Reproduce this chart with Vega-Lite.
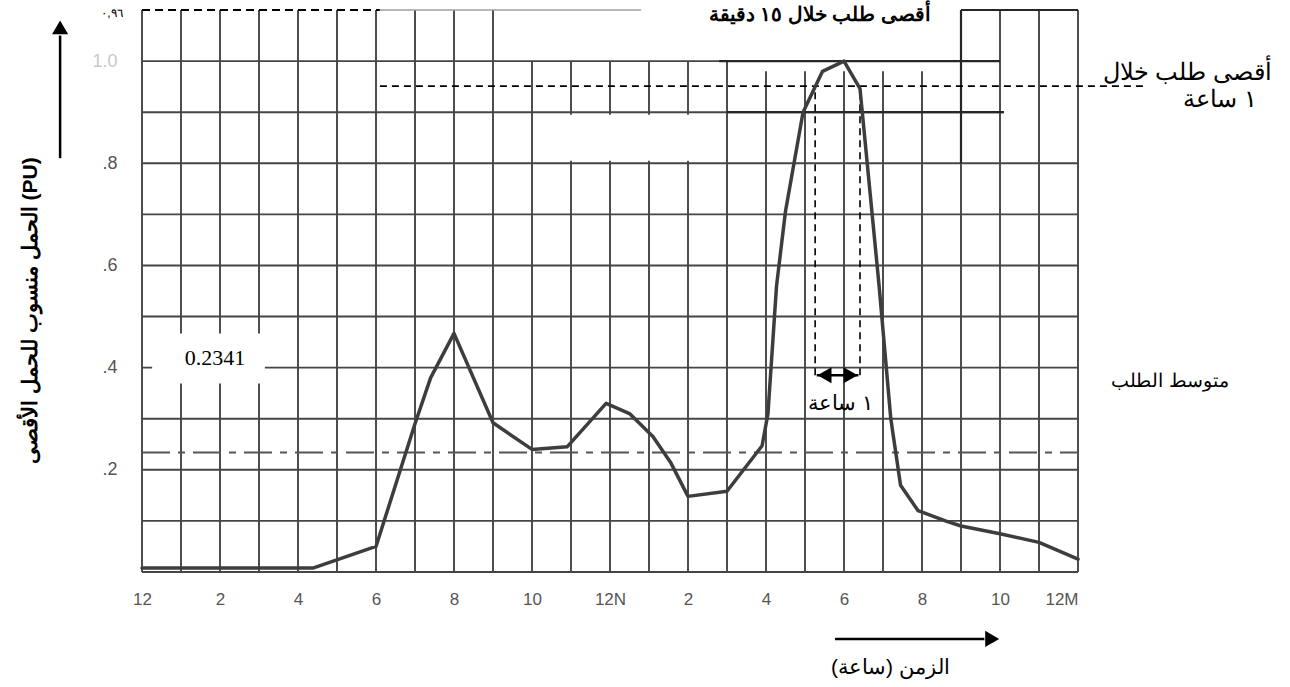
{
  "$schema": "https://vega.github.io/schema/vega-lite/v6.json",
  "width": 936,
  "height": 562,
  "autosize": {"type": "none"},
  "padding": {"left": 142, "top": 10, "right": 212, "bottom": 115},
  "background": "white",
  "config": {"view": {"stroke": null}, "font": "Liberation Sans"},
  "datasets": {
    "curve": [
      {"h": 0, "v": 0.008}, {"h": 4.4, "v": 0.008}, {"h": 6.0, "v": 0.05}, {"h": 7.0, "v": 0.29},
      {"h": 7.4, "v": 0.38}, {"h": 8.0, "v": 0.467}, {"h": 9.0, "v": 0.292}, {"h": 10.0, "v": 0.24},
      {"h": 10.9, "v": 0.245}, {"h": 11.9, "v": 0.33}, {"h": 12.5, "v": 0.31}, {"h": 13.1, "v": 0.265},
      {"h": 13.55, "v": 0.215}, {"h": 14.0, "v": 0.148}, {"h": 15.0, "v": 0.158}, {"h": 15.9, "v": 0.247},
      {"h": 16.05, "v": 0.31}, {"h": 16.27, "v": 0.56}, {"h": 16.5, "v": 0.706}, {"h": 16.95, "v": 0.9},
      {"h": 17.45, "v": 0.98}, {"h": 18.0, "v": 1.0}, {"h": 18.41, "v": 0.946}, {"h": 18.9, "v": 0.56},
      {"h": 19.2, "v": 0.3}, {"h": 19.45, "v": 0.17}, {"h": 19.9, "v": 0.12}, {"h": 20.6, "v": 0.1},
      {"h": 21.0, "v": 0.09}, {"h": 22.0, "v": 0.075}, {"h": 23.0, "v": 0.058}, {"h": 24.0, "v": 0.025}
    ],
    "grid": [
      {"h": 0, "h2": 0, "v": 0, "v2": 1.1}, {"h": 1, "h2": 1, "v": 0, "v2": 1.1},
      {"h": 2, "h2": 2, "v": 0, "v2": 1.1}, {"h": 3, "h2": 3, "v": 0, "v2": 1.1},
      {"h": 4, "h2": 4, "v": 0, "v2": 1.1}, {"h": 5, "h2": 5, "v": 0, "v2": 1.1},
      {"h": 6, "h2": 6, "v": 0, "v2": 1.1}, {"h": 7, "h2": 7, "v": 0, "v2": 1.1},
      {"h": 8, "h2": 8, "v": 0, "v2": 1.1}, {"h": 9, "h2": 9, "v": 0, "v2": 1.1},
      {"h": 10, "h2": 10, "v": 0, "v2": 1.0}, {"h": 11, "h2": 11, "v": 0, "v2": 1.0},
      {"h": 12, "h2": 12, "v": 0, "v2": 1.0}, {"h": 13, "h2": 13, "v": 0, "v2": 1.0},
      {"h": 14, "h2": 14, "v": 0, "v2": 1.0}, {"h": 15, "h2": 15, "v": 0, "v2": 1.0},
      {"h": 16, "h2": 16, "v": 0, "v2": 0.98}, {"h": 17, "h2": 17, "v": 0, "v2": 0.98},
      {"h": 18, "h2": 18, "v": 0, "v2": 0.98}, {"h": 19, "h2": 19, "v": 0, "v2": 0.98},
      {"h": 20, "h2": 20, "v": 0, "v2": 0.98}, {"h": 21, "h2": 21, "v": 0, "v2": 1.1},
      {"h": 22, "h2": 22, "v": 0, "v2": 1.1}, {"h": 23, "h2": 23, "v": 0, "v2": 1.1},
      {"h": 24, "h2": 24, "v": 0, "v2": 1.1},
      {"h": 0, "h2": 24, "v": 0, "v2": 0}, {"h": 0, "h2": 24, "v": 0.1, "v2": 0.1},
      {"h": 0, "h2": 24, "v": 0.2, "v2": 0.2}, {"h": 0, "h2": 24, "v": 0.3, "v2": 0.3},
      {"h": 0, "h2": 24, "v": 0.4, "v2": 0.4}, {"h": 0, "h2": 24, "v": 0.5, "v2": 0.5},
      {"h": 0, "h2": 24, "v": 0.6, "v2": 0.6}, {"h": 0, "h2": 24, "v": 0.7, "v2": 0.7},
      {"h": 0, "h2": 24, "v": 0.8, "v2": 0.8}, {"h": 0, "h2": 22.1, "v": 0.9, "v2": 0.9},
      {"h": 0, "h2": 21.5, "v": 1.0, "v2": 1.0}
    ],
    "white": [
      {"h": 10.6, "h2": 14.8, "v": 0.805, "v2": 0.895},
      {"h": 0.26, "h2": 3.15, "v": 0.369, "v2": 0.467}
    ],
    "segs": [
      {"kind": "topDash", "h": 0, "h2": 6.1, "v": 1.1, "v2": 1.1},
      {"kind": "topLight", "h": 6.1, "h2": 12.8, "v": 1.1, "v2": 1.1},
      {"kind": "solid", "h": 21, "h2": 24, "v": 1.1, "v2": 1.1},
      {"kind": "solid", "h": 14.8, "h2": 22.0, "v": 1.0, "v2": 1.0},
      {"kind": "solid", "h": 15.0, "h2": 22.1, "v": 0.9, "v2": 0.9},
      {"kind": "solid", "h": 21, "h2": 21, "v": 0.8, "v2": 1.1},
      {"kind": "dash", "h": 6.1, "h2": 25.7, "v": 0.951, "v2": 0.951},
      {"kind": "dash", "h": 17.26, "h2": 17.26, "v": 0.385, "v2": 0.951},
      {"kind": "dash", "h": 18.41, "h2": 18.41, "v": 0.385, "v2": 0.951},
      {"kind": "arrow", "h": 17.3, "h2": 18.37, "v": 0.385, "v2": 0.385},
      {"kind": "arrow", "h": 17.77, "h2": 21.6, "v": -0.131, "v2": -0.131},
      {"kind": "arrow", "h": -2.1, "h2": -2.1, "v": 0.81, "v2": 1.05},
      {"kind": "avg", "h": 0, "h2": 24, "v": 0.2341, "v2": 0.2341}
    ],
    "heads": [
      {"kind": "left", "h": 17.5, "v": 0.385},
      {"kind": "right", "h": 18.17, "v": 0.385},
      {"kind": "right", "h": 21.8, "v": -0.131},
      {"kind": "up", "h": -2.1, "v": 1.066}
    ],
    "texts": [
      {"kind": "t15", "h": 17.38, "v": 1.09, "label": "أقصى طلب خلال ١٥ دقيقة"},
      {"kind": "right", "h": 26.8, "v": 0.976, "label": "أقصى طلب خلال"},
      {"kind": "right", "h": 27.64, "v": 0.924, "label": "١ ساعة"},
      {"kind": "avg", "h": 26.36, "v": 0.373, "label": "متوسط الطلب"},
      {"kind": "hour", "h": 17.9, "v": 0.329, "label": "١ ساعة"},
      {"kind": "serif", "h": 1.87, "v": 0.418, "label": "0.2341"},
      {"kind": "small", "h": -0.77, "v": 1.094, "label": "٠,٩٦"}
    ]
  },
  "encoding": {
    "x": {
      "field": "h", "type": "quantitative",
      "scale": {"domain": [0, 24], "nice": false, "zero": false},
      "axis": {
        "values": [0, 2, 4, 6, 8, 10, 12, 14, 16, 18, 20, 22, 24],
        "labelExpr": "datum.value == 0 ? '12' : datum.value == 12 ? '12N' : datum.value == 24 ? '12M' : '' + (datum.value % 12)",
        "labelFontSize": 17, "labelColor": "#555555", "labelPadding": 19, "labelFont": "Liberation Sans",
        "labelFlush": false,
        "labelAlign": {"condition": {"test": "datum.value == 24", "value": "right"}, "value": "center"},
        "domain": false, "ticks": false, "grid": false,
        "title": "الزمن (ساعة)", "titleX": 748, "titleY": 95, "titleAlign": "center", "titleBaseline": "middle",
        "titleFontSize": 21, "titleFontWeight": "normal", "titleColor": "black", "titleFont": "Liberation Sans"
      }
    },
    "y": {
      "field": "v", "type": "quantitative",
      "scale": {"domain": [0, 1.1], "nice": false, "zero": false},
      "axis": {
        "values": [0.2, 0.4, 0.6, 0.8, 1.0],
        "labelExpr": "datum.value >= 0.99 ? '1.0' : '.' + round(datum.value * 10)",
        "labelFontSize": 18, "labelFont": "Liberation Sans", "labelPadding": 25,
        "labelColor": {"condition": {"test": "datum.value >= 0.99", "value": "#c8c8c8"}, "value": "#555555"},
        "domain": false, "ticks": false, "grid": false,
        "title": "الحمل منسوب للحمل الأقصى (PU)", "titleX": -112, "titleY": 300, "titleAngle": 270,
        "titleAlign": "center", "titleBaseline": "middle", "titleFontSize": 21, "titleFontWeight": "bold",
        "titleColor": "black", "titleFont": "Liberation Sans"
      }
    }
  },
  "layer": [
    {
      "data": {"name": "grid"},
      "mark": {"type": "rule", "stroke": "#454545", "strokeWidth": 1.9},
      "encoding": {"x2": {"field": "h2"}, "y2": {"field": "v2"}}
    },
    {
      "data": {"name": "white"},
      "mark": {"type": "rect", "fill": "white"},
      "encoding": {"x2": {"field": "h2"}, "y2": {"field": "v2"}}
    },
    {
      "data": {"name": "segs"},
      "transform": [{"filter": "datum.kind == 'topDash'"}],
      "mark": {"type": "rule", "stroke": "black", "strokeWidth": 2, "strokeDash": [8, 5]},
      "encoding": {"x2": {"field": "h2"}, "y2": {"field": "v2"}}
    },
    {
      "data": {"name": "segs"},
      "transform": [{"filter": "datum.kind == 'topLight'"}],
      "mark": {"type": "rule", "stroke": "#a0a0a0", "strokeWidth": 1.5},
      "encoding": {"x2": {"field": "h2"}, "y2": {"field": "v2"}}
    },
    {
      "data": {"name": "segs"},
      "transform": [{"filter": "datum.kind == 'solid'"}],
      "mark": {"type": "rule", "stroke": "#262626", "strokeWidth": 2.2},
      "encoding": {"x2": {"field": "h2"}, "y2": {"field": "v2"}}
    },
    {
      "data": {"name": "segs"},
      "transform": [{"filter": "datum.kind == 'avg'"}],
      "mark": {"type": "rule", "stroke": "#555555", "strokeWidth": 2, "strokeDash": [28, 8, 7, 8]},
      "encoding": {"x2": {"field": "h2"}, "y2": {"field": "v2"}}
    },
    {
      "data": {"name": "segs"},
      "transform": [{"filter": "datum.kind == 'dash'"}],
      "mark": {"type": "rule", "stroke": "black", "strokeWidth": 1.6, "strokeDash": [7, 5]},
      "encoding": {"x2": {"field": "h2"}, "y2": {"field": "v2"}}
    },
    {
      "data": {"name": "curve"},
      "mark": {"type": "line", "stroke": "#3d3d3d", "strokeWidth": 3.5, "strokeCap": "round", "strokeJoin": "round"},
      "encoding": {}
    },
    {
      "data": {"name": "segs"},
      "transform": [{"filter": "datum.kind == 'arrow'"}],
      "mark": {"type": "rule", "stroke": "black", "strokeWidth": 2.5},
      "encoding": {"x2": {"field": "h2"}, "y2": {"field": "v2"}}
    },
    {
      "data": {"name": "heads"},
      "transform": [{"filter": "datum.kind == 'left'"}],
      "mark": {"type": "point", "shape": "triangle-left", "filled": true, "fill": "black", "opacity": 1, "size": 260, "strokeWidth": 0}
    },
    {
      "data": {"name": "heads"},
      "transform": [{"filter": "datum.kind == 'right'"}],
      "mark": {"type": "point", "shape": "triangle-right", "filled": true, "fill": "black", "opacity": 1, "size": 260, "strokeWidth": 0}
    },
    {
      "data": {"name": "heads"},
      "transform": [{"filter": "datum.kind == 'up'"}],
      "mark": {"type": "point", "shape": "triangle-up", "filled": true, "fill": "black", "opacity": 1, "size": 260, "strokeWidth": 0}
    },
    {
      "data": {"name": "texts"},
      "transform": [{"filter": "datum.kind == 't15'"}],
      "mark": {"type": "text", "font": "Liberation Sans", "fontSize": 20, "fontWeight": "bold", "fill": "black", "align": "center", "baseline": "middle"},
      "encoding": {"text": {"field": "label"}}
    },
    {
      "data": {"name": "texts"},
      "transform": [{"filter": "datum.kind == 'right'"}],
      "mark": {"type": "text", "font": "Liberation Sans", "fontSize": 24, "fill": "black", "align": "center", "baseline": "middle"},
      "encoding": {"text": {"field": "label"}}
    },
    {
      "data": {"name": "texts"},
      "transform": [{"filter": "datum.kind == 'avg'"}],
      "mark": {"type": "text", "font": "Liberation Sans", "fontSize": 19, "fill": "black", "align": "center", "baseline": "middle"},
      "encoding": {"text": {"field": "label"}}
    },
    {
      "data": {"name": "texts"},
      "transform": [{"filter": "datum.kind == 'hour'"}],
      "mark": {"type": "text", "font": "Liberation Sans", "fontSize": 21, "fill": "black", "align": "center", "baseline": "middle"},
      "encoding": {"text": {"field": "label"}}
    },
    {
      "data": {"name": "texts"},
      "transform": [{"filter": "datum.kind == 'serif'"}],
      "mark": {"type": "text", "font": "Liberation Serif", "fontSize": 22, "fill": "black", "align": "center", "baseline": "middle"},
      "encoding": {"text": {"field": "label"}}
    },
    {
      "data": {"name": "texts"},
      "transform": [{"filter": "datum.kind == 'small'"}],
      "mark": {"type": "text", "font": "Liberation Sans", "fontSize": 12, "fill": "black", "align": "center", "baseline": "middle"},
      "encoding": {"text": {"field": "label"}}
    }
  ]
}
